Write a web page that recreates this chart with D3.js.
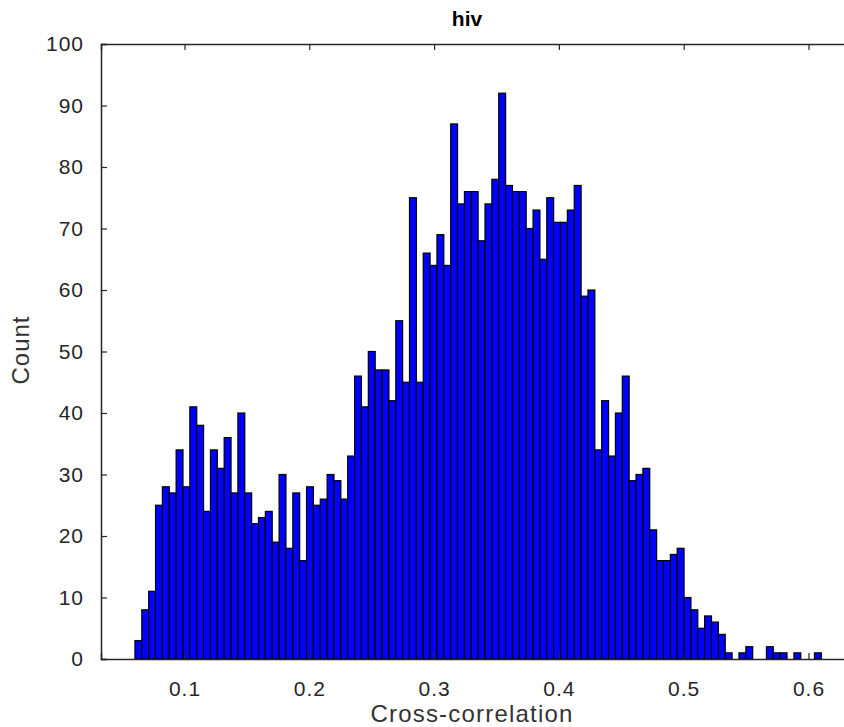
<!DOCTYPE html>
<html>
<head>
<meta charset="utf-8">
<script src="https://cdn.jsdelivr.net/npm/d3@7"></script>
<style>
  body { margin: 0; background: #fff; }
  text { font-family: "Liberation Sans", Arial, sans-serif; fill: #262626; }
</style>
</head>
<body>
<div id="chart"></div>
<script>
// histogram of cross-correlation values, 100 equal bins

const binStart = 0.0603;
const binWidth = 0.0055;

const counts = [
  3, 8, 11, 25, 28, 27, 34, 28, 41, 38,
  24, 34, 31, 36, 27, 40, 27, 22, 23, 24,
  19, 30, 18, 27, 16, 28, 25, 26, 30, 29,
  26, 33, 46, 41, 50, 47, 47, 42, 55, 45,
  75, 45, 66, 64, 69, 64, 87, 74, 76, 76,
  68, 74, 78, 92, 77, 76, 76, 70, 73, 65,
  75, 71, 71, 73, 77, 59, 60, 34, 42, 33,
  40, 46, 29, 30, 31, 21, 16, 16, 17, 18,
  10, 8, 5, 7, 6, 4, 1, 0, 1, 2,
  0, 0, 2, 1, 1, 0, 1, 0, 0, 1
];

const xTicks = [0.1, 0.2, 0.3, 0.4, 0.5, 0.6];
const yTicks = [0, 10, 20, 30, 40, 50, 60, 70, 80, 90, 100];

const titleText = "hiv";
const xLabel = "Cross-correlation";
const yLabel = "Count";

const W = 844, H = 727;
const margin = { top: 44, left: 101, bottom: 68 };
const height = H - margin.top - margin.bottom;
const width = 760;

const svg = d3.select("#chart")
  .append("svg")
  .attr("width", W)
  .attr("height", H);

const g = svg.append("g")
  .attr("transform", `translate(${margin.left},${margin.top})`);

// Scales
const x = d3.scaleLinear()
  .domain([0.0331, 0.0331 + width / 1248])
  .range([0, width]);

const y = d3.scaleLinear()
  .domain([0, 100])
  .range([height, 0]);

// Bars
const bins = counts.map((c, i) => ({
  x0: binStart + i * binWidth,
  x1: binStart + (i + 1) * binWidth,
  count: c
}));

g.selectAll(".bar")
  .data(bins.filter(d => d.count > 0))
  .enter()
  .append("rect")
  .attr("class", "bar")
  .attr("x", d => x(d.x0))
  .attr("width", d => x(d.x1) - x(d.x0))
  .attr("y", d => y(d.count))
  .attr("height", d => y(0) - y(d.count))
  .attr("fill", "#0000ff")
  .attr("stroke", "#000")
  .attr("stroke-width", 1.2);

// Axes, ticks pointing inward like matlab
const tickColor = "#262626";

const xAxisB = g.append("g")
  .attr("transform", `translate(0,${height})`)
  .call(d3.axisBottom(x).tickValues(xTicks).tickSize(-6).tickPadding(22)
    .tickFormat(d3.format(".1f")));

const xAxisT = g.append("g")
  .call(d3.axisTop(x).tickValues(xTicks).tickSize(-6).tickFormat(""));

const yAxisL = g.append("g")
  .call(d3.axisLeft(y).tickValues(yTicks).tickSize(-6).tickPadding(17));

[xAxisB, xAxisT, yAxisL].forEach(a => {
  a.select(".domain").attr("stroke", tickColor).attr("stroke-width", 1.5);
  a.selectAll(".tick line").attr("stroke", tickColor).attr("stroke-width", 1.2);
  a.selectAll(".tick text")
    .style("font-family", "'Liberation Sans', Arial, sans-serif")
    .style("font-size", "21px")
    .style("letter-spacing", "1px")
    .attr("fill", "#333");
});

// Labels
svg.append("text")
  .attr("x", 467)
  .attr("y", 26)
  .attr("text-anchor", "middle")
  .style("font-size", "21px")
  .style("font-weight", "bold")
  .style("fill", "#000")
  .text(titleText);

svg.append("text")
  .attr("x", 472)
  .attr("y", 722)
  .attr("text-anchor", "middle")
  .style("font-size", "24px")
  .style("letter-spacing", "1.2px")
  .style("fill", "#333")
  .text(xLabel);

svg.append("text")
  .attr("transform", "translate(29,350) rotate(-90)")
  .attr("text-anchor", "middle")
  .style("font-size", "24px")
  .style("letter-spacing", "1px")
  .style("fill", "#333")
  .text(yLabel);
</script>
</body>
</html>
